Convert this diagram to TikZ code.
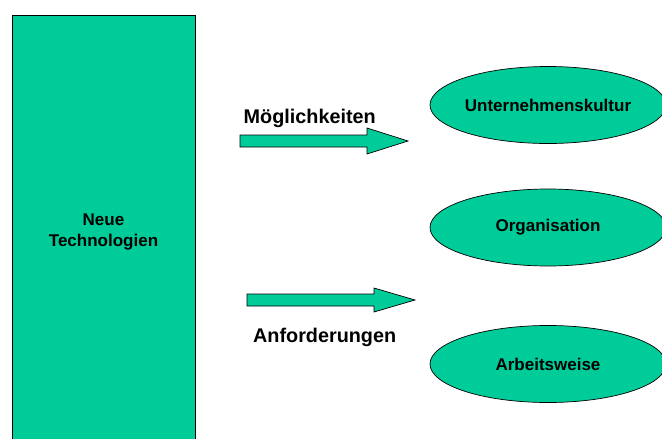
\documentclass[tikz,border=0pt]{standalone}
\usepackage{fontspec}
\setmainfont{Liberation Sans}
\usetikzlibrary{shapes.geometric}
\definecolor{tgreen}{HTML}{00CC99}
\tikzset{
  fillshape/.style={fill=tgreen, draw=black, line width=0.7pt},
  ovalbox/.style={fillshape, ellipse, minimum width=236pt, minimum height=77pt, inner sep=0pt,
    font=\fontsize{17}{20}\selectfont\bfseries},
  lbl/.style={anchor=base west, inner sep=0pt, font=\fontsize{19.8}{22}\selectfont\bfseries},
  blockarrow/.style={fillshape}
}
\begin{document}
\begin{tikzpicture}[x=1pt,y=-1pt]
\useasboundingbox (0,0) rectangle (662,439);
\node[fillshape, rectangle, minimum width=183pt, minimum height=434pt, inner sep=0pt,
  align=center, font=\fontsize{17}{21}\selectfont\bfseries] (tech) at (103.5,232) {Neue\\Technologien};
\node[ovalbox] (kultur) at (548,105) {Unternehmenskultur};
\node[ovalbox] (org) at (548,227.5) {Organisation};
\node[ovalbox] (arbeit) at (548,364) {Arbeitsweise};
\draw[blockarrow] (240,135) -- (367,135) -- (367,128) -- (408,141) -- (367,154) -- (367,147) -- (240,147) -- cycle;
\draw[blockarrow] (247,294) -- (374,294) -- (374,288) -- (415,300) -- (374,312) -- (374,306) -- (247,306) -- cycle;
\node[lbl] (moeg) at (243.5,123.5) {Möglichkeiten};
\node[lbl] (anf) at (253,342) {Anforderungen};
\end{tikzpicture}
\end{document}
